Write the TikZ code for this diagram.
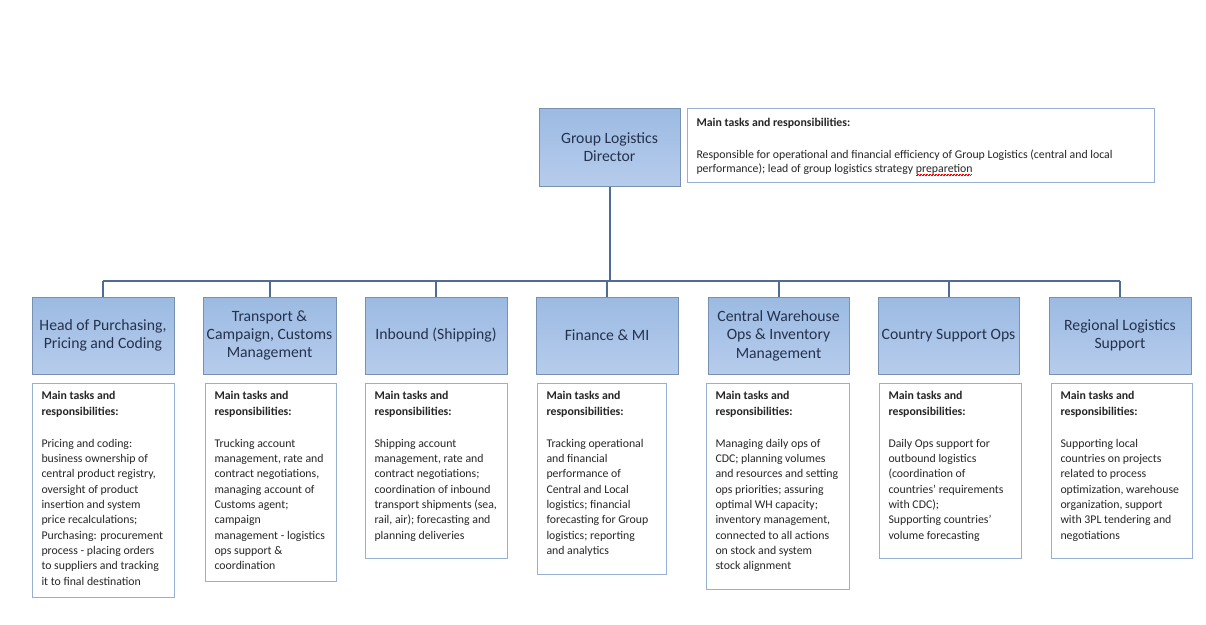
\documentclass[tikz,border=0pt]{standalone}
\usepackage{fontspec}
\setmainfont{Carlito}
\usetikzlibrary{calc}

\definecolor{unitline}{RGB}{120,145,178}
\definecolor{unittop}{RGB}{156,186,226}
\definecolor{unitbottom}{RGB}{182,204,236}
\definecolor{unittext}{RGB}{36,50,78}
\definecolor{dutyline}{RGB}{150,176,212}
\definecolor{linkline}{RGB}{78,108,148}

% Red spell-check zigzag under a word.
\newsavebox{\spellbox}
\newcommand{\spellmark}[1]{\sbox{\spellbox}{#1}\rlap{\textcolor{red}{\leaders\hbox{\rule[-2.8pt]{0.75pt}{0.6pt}\rule[-2.1pt]{0.75pt}{0.6pt}}\hskip\wd\spellbox}}\usebox{\spellbox}}

% Bold heading used in every duty box.
\newcommand{\dutyhead}{\textbf{Main tasks and\\responsibilities:}\\[17pt]}

\tikzset{
    unit/.style = {draw = unitline, line width = 1pt, top color = unittop, bottom color = unitbottom,
        minimum height = 77pt, align = center, text = unittext, font = \fontsize{15.7}{18.4}\selectfont},
    duty/.style = {draw = dutyline, line width = 1pt, fill = white, anchor = north west,
        inner xsep = 9pt, inner ysep = 8pt, text = black!85, font = \fontsize{11.8}{15.3}\selectfont},
    link/.style = {draw = linkline, line width = 2pt}
}

\begin{document}
\begin{tikzpicture}[x = 1pt, y = -1pt]

        \useasboundingbox (0, 0) rectangle (1206, 624);

        % Height of the horizontal bus line.
        \coordinate (bus) at (0, 281);

        % The director and its duties.
        \node [unit, minimum width = 141pt, minimum height = 78pt] (director) at (609.5, 147) {Group Logistics\\Director};
        \node [duty, inner ysep = 10pt] (directorduty) at (687, 108)
            {\parbox[t][54pt][t]{449pt}{\raggedright\fontsize{11.8}{14}\selectfont
            \textbf{Main tasks and responsibilities:}\\[18pt]
            Responsible for operational and financial efficiency of Group Logistics (central and local\\
            performance); lead of group logistics strategy \spellmark{preparetion}}};

        % The seven units in one row.
        \node [unit, minimum width = 142pt] (purch) at (103, 335.5) {Head of Purchasing,\\Pricing and Coding};
        \node [unit, minimum width = 133pt] (transport) at (269.5, 335.5) {Transport \&\\Campaign, Customs\\Management};
        \node [unit, minimum width = 142pt] (inbound) at (436, 335.5) {Inbound (Shipping)};
        \node [unit, minimum width = 142pt] (finance) at (607, 335.5) {Finance \& MI};
        \node [unit, minimum width = 141pt] (warehouse) at (778.5, 335.5) {Central Warehouse\\Ops \& Inventory\\Management};
        \node [unit, minimum width = 141pt] (country) at (948.5, 335.5) {Country Support Ops};
        \node [unit, minimum width = 142pt] (region) at (1120, 335.5) {Regional Logistics\\Support};

        % Duties of each unit.
        \node [duty] (purchduty) at (32, 383)
            {\parbox[t][198pt][t]{124pt}{\raggedright\dutyhead
            Pricing and coding:\\ business ownership of\\ central product registry,\\ oversight of product\\
            insertion and system\\ price recalculations;\\ Purchasing: procurement\\ process - placing orders\\
            to suppliers and tracking\\ it to final destination}};
        \node [duty] (transportduty) at (205, 383)
            {\parbox[t][182pt][t]{113pt}{\raggedright\dutyhead
            Trucking account\\ management, rate and\\ contract negotiations,\\ managing account of\\
            Customs agent;\\ campaign\\ management - logistics\\ ops support \&\\ coordination}};
        \node [duty] (inboundduty) at (365, 383)
            {\parbox[t][159pt][t]{124pt}{\raggedright\dutyhead
            Shipping account\\ management, rate and\\ contract negotiations;\\ coordination of inbound\\
            transport shipments (sea,\\ rail, air); forecasting and\\ planning deliveries}};
        \node [duty] (financeduty) at (537, 383)
            {\parbox[t][175pt][t]{111pt}{\raggedright\dutyhead
            Tracking operational\\ and financial\\ performance of\\ Central and Local\\
            logistics; financial\\ forecasting for Group\\ logistics; reporting\\ and analytics}};
        \node [duty] (warehouseduty) at (706, 383)
            {\parbox[t][190pt][t]{125pt}{\raggedright\dutyhead
            Managing daily ops of\\ CDC; planning volumes\\ and resources and setting\\ ops priorities; assuring\\
            optimal WH capacity;\\ inventory management,\\ connected to all actions\\ on stock and system\\ stock alignment}};
        \node [duty] (countryduty) at (879, 383)
            {\parbox[t][159pt][t]{124pt}{\raggedright\dutyhead
            Daily Ops support for\\ outbound logistics\\ (coordination of\\ countries’ requirements\\
            with CDC);\\ Supporting countries’\\ volume forecasting}};
        \node [duty] (regionduty) at (1051, 383)
            {\parbox[t][159pt][t]{123pt}{\raggedright\dutyhead
            Supporting local\\ countries on projects\\ related to process\\ optimization, warehouse\\
            organization, support\\ with 3PL tendering and\\ negotiations}};

        % Lines from the director down to the units.
        \draw [link] (director.south) to (director.south |- bus);
        \draw [link] (purch.north |- bus) to (region.north |- bus);
        \foreach \unit in {purch, transport, inbound, finance, warehouse, country, region}
            \draw [link] (\unit.north |- bus) to (\unit.north);
    \end{tikzpicture}
\end{document}
